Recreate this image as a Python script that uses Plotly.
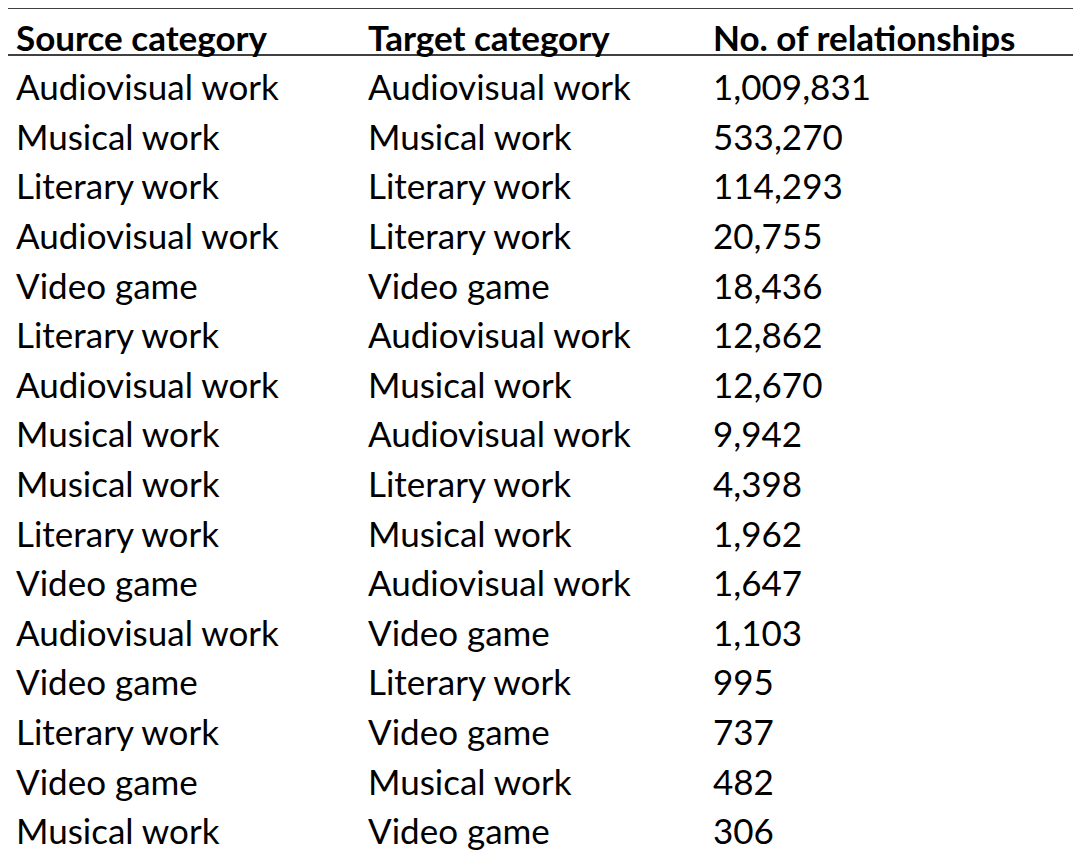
import plotly.graph_objects as go

headers = ["Source category", "Target category", "No. of relationships"]
source = ["Audiovisual work", "Musical work", "Literary work", "Audiovisual work",
          "Video game", "Literary work", "Audiovisual work", "Musical work",
          "Musical work", "Literary work", "Video game", "Audiovisual work",
          "Video game", "Literary work", "Video game", "Musical work"]
target = ["Audiovisual work", "Musical work", "Literary work", "Literary work",
          "Video game", "Audiovisual work", "Musical work", "Audiovisual work",
          "Literary work", "Musical work", "Audiovisual work", "Video game",
          "Literary work", "Video game", "Musical work", "Video game"]
counts = [1009831, 533270, 114293, 20755, 18436, 12862, 12670, 9942,
          4398, 1962, 1647, 1103, 995, 737, 482, 306]

W, H = 1081, 853
HEAD_H, ROW_H = 46, 49.6

fig = go.Figure(go.Table(
    columnwidth=[352, 345, 384],
    header=dict(
        values=["<b>%s</b>" % h for h in headers],
        align="left", height=HEAD_H,
        font=dict(family="Lato", size=35, color="black"),
        fill_color="white", line_color="rgba(0,0,0,0)",
    ),
    cells=dict(
        values=[source, target, [f"{c:,}" for c in counts]],
        align="left", height=ROW_H,
        font=dict(family="Lato", size=35, color="black"),
        fill_color="white", line_color="rgba(0,0,0,0)",
    ),
    domain=dict(x=[0, 1], y=[0, 1]),
))

fig.add_shape(type="line", xref="paper", yref="paper", x0=0, x1=1, y0=1, y1=1,
              line=dict(color="black", width=1.5))
fig.add_shape(type="line", xref="paper", yref="paper", x0=0, x1=1,
              y0=1 - HEAD_H / (H - 16), y1=1 - HEAD_H / (H - 16),
              line=dict(color="black", width=1.5))

fig.update_layout(width=W, height=H, margin=dict(l=0, r=0, t=0, b=0),
                  paper_bgcolor="white")
fig.write_html("out.html")
